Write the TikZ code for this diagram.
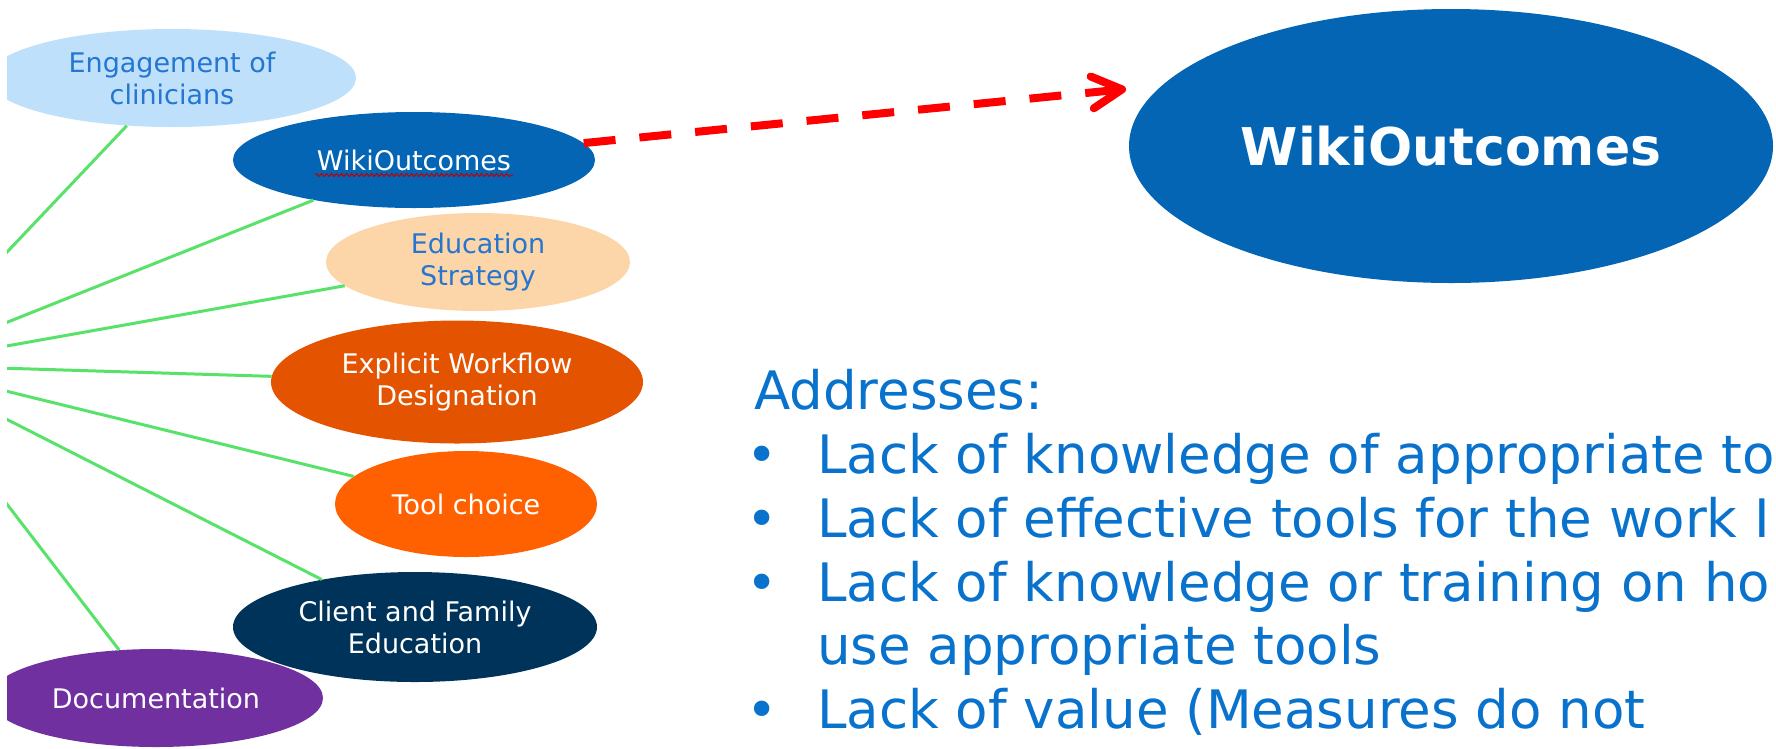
\documentclass[tikz,border=0pt]{standalone}
\usepackage{fontspec}
\setmainfont{DejaVu Sans}
\usepackage{tikz}
\usetikzlibrary{shapes.geometric,arrows.meta,decorations.pathmorphing}
\definecolor{hubgreen}{RGB}{88,226,106}
\definecolor{labelblue}{RGB}{36,118,208}
\definecolor{paleblue}{RGB}{190,224,251}
\definecolor{wikiblue}{RGB}{3,101,180}
\definecolor{peach}{RGB}{252,213,168}
\definecolor{burnt}{RGB}{228,84,0}
\definecolor{bright}{RGB}{255,97,0}
\definecolor{navy}{RGB}{0,51,89}
\definecolor{docpurple}{RGB}{112,48,160}
\definecolor{textblue}{RGB}{8,114,204}
\tikzset{>=latex}
\newcommand{\bul}{\makebox[71pt][l]{•}}

\begin{document}
\begin{tikzpicture}
    [
      x=1pt, y=-1pt,
      topic/.style={ellipse, inner sep=0pt, align=center, font=\fontsize{27}{32}\selectfont},
      spoke/.style={draw=hubgreen, line width=3pt},
      dasharr/.style={-{Straight Barb[length=30pt,width=32pt,line cap=round,line join=round]}, draw=red, line width=8pt, dash pattern=on 32pt off 24pt},
      point/.style={anchor=base west, inner sep=0pt, text=textblue, font=\fontsize{53}{64}\selectfont}
    ]
    \useasboundingbox (0,0) rectangle (1776,748);
    \clip (7,0) rectangle (1776,748);
    \coordinate (hub) at (-100,365);
    \node (engage) [topic, fill=paleblue, text=labelblue, minimum width=368pt, minimum height=98pt] at (172,78) {Engagement of\\clinicians};
    \node (wiki) [topic, fill=wikiblue, text=white, minimum width=362pt, minimum height=96pt] at (414,160) {WikiOutcomes};
    \node (edu) [topic, fill=peach, text=labelblue, minimum width=304pt, minimum height=98pt] at (478,262) {Education\\Strategy};
    \node (flow) [topic, fill=burnt, text=white, minimum width=372pt, minimum height=123pt] at (457,382) {Explicit Workflow\\Designation};
    \node (tool) [topic, fill=bright, text=white, minimum width=262pt, minimum height=106pt] at (466,504) {Tool choice};
    \node (doc) [topic, fill=docpurple, text=white, minimum width=334pt, minimum height=98pt] at (156,698) {Documentation};
    \node (client) [topic, fill=navy, text=white, minimum width=364pt, minimum height=110pt] at (415,627) {Client and Family\\Education};
    \node (big) [ellipse, inner sep=0pt, fill=wikiblue, text=white, minimum width=644pt, minimum height=274pt, font=\fontsize{52}{60}\selectfont\bfseries] at (1451,146) {WikiOutcomes};
    \coordinate (tip) at (1126,89);

    \draw [spoke] (hub) -- (engage);
    \draw [spoke] (hub) -- (wiki);
    \draw [spoke] (hub) -- (edu);
    \draw [spoke] (hub) -- (flow);
    \draw [spoke] (hub) -- (tool);
    \draw [spoke] (hub) -- (client);
    \draw [spoke] (hub) -- (doc);
    \draw [red!75!black, line width=1pt, decorate, decoration={snake, amplitude=1.5pt, segment length=5pt}] ([xshift=-99pt,yshift=-15pt]wiki.center) -- ([xshift=99pt,yshift=-15pt]wiki.center);
    \draw [dasharr] (wiki) -- (tip);

    \node (addr) [point] at (754,409) {Addresses:};
    \node (lack-a) [point] at (746,473) {\bul Lack of knowledge of appropriate to};
    \node (lack-b) [point] at (746,537) {\bul Lack of effective tools for the work I};
    \node (lack-c) [point] at (746,601) {\bul Lack of knowledge or training on ho};
    \node (lack-c2) [point] at (817,664) {use appropriate tools};
    \node (lack-d) [point] at (746,728) {\bul Lack of value (Measures do not};
  \end{tikzpicture}
\end{document}
